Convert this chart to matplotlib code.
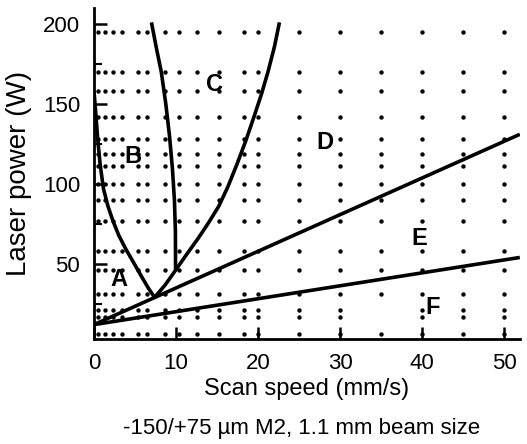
import matplotlib.pyplot as plt
import numpy as np

plt.rcParams['font.family'] = ['Liberation Sans', 'DejaVu Sans']

# pontos ensaiados: velocidade (mm/s) x potencia (W)
speeds = [0.5, 1.3, 2.3, 3.4, 5.4, 6.5, 8.7, 10.3, 12.6, 15.2, 18.3, 20, 25, 30, 35, 40, 45, 50]
powers = [6, 17, 21, 31, 46, 58, 77, 90, 100, 111, 119, 128, 142, 158, 170, 195]
missing = [(35, 17), (35, 21)]

# fronteiras entre regioes
ab_speed = [0, 0.2, 0.45, 0.75, 1.15, 1.7, 2.3, 3.0, 3.9, 4.8, 5.8, 6.6, 7.38]
ab_power = [158, 145, 128, 112, 97, 86, 77, 68, 59, 51, 42, 35, 29]
bc_speed = [7.0, 7.6, 8.2, 8.75, 9.2, 9.55, 9.8, 9.92, 9.94]
bc_power = [201, 185, 170, 150, 130, 110, 90, 70, 46]
cd_speed = [7.38, 8.7, 9.94, 11.3, 12.7, 14.0, 15.2, 16.3, 17.4, 18.5, 19.5, 20.4, 21.2, 22.0, 22.6]
cd_power = [29, 37, 46, 56, 66, 76, 86, 98, 112, 127, 142, 156, 170, 186, 201]
de_speed = [0, 51.9]
de_power = [12, 131]
ef_speed = [0, 51.9]
ef_power = [12, 54]

regions = ['A', 'B', 'C', 'D', 'E', 'F']
region_x = [3.0, 4.7, 14.7, 28.2, 39.7, 41.3]
region_y = [40, 117, 162, 126, 66, 23]

fig = plt.figure(figsize=(5.27, 4.44), dpi=100)
ax = fig.add_axes([0.1784, 0.2365, 0.808, 0.7455])

xs, ys = [], []
for s in speeds:
    for p in powers:
        if (s, p) not in missing:
            xs.append(s)
            ys.append(p)
ax.scatter(xs, ys, s=10, color='black', linewidths=0, zorder=3)

for sx, py in [(ab_speed, ab_power), (bc_speed, bc_power), (cd_speed, cd_power),
               (de_speed, de_power), (ef_speed, ef_power)]:
    ax.plot(sx, py, color='black', lw=2.6, solid_capstyle='butt',
            solid_joinstyle='round', zorder=4)

for lab, x, y in zip(regions, region_x, region_y):
    ax.text(x, y, lab, fontsize=17, fontweight='bold', ha='center', va='center', zorder=5)

ax.set_xlim(0, 51.9)
ax.set_ylim(3, 210)
ax.set_xticks([0, 10, 20, 30, 40, 50])
ax.set_yticks([50, 100, 150, 200])
ax.set_yticks([25, 75, 125, 175], minor=True)
ax.tick_params(direction='in', labelsize=16, width=1.8, length=9, pad=10)
ax.tick_params(which='minor', direction='in', width=1.5, length=6)
ax.spines['top'].set_visible(False)
ax.spines['right'].set_visible(False)
ax.spines['left'].set_linewidth(2)
ax.spines['bottom'].set_linewidth(2)

ax.set_xlabel('Scan speed (mm/s)', fontsize=17, labelpad=3)
ax.set_ylabel('Laser power (W)', fontsize=20, labelpad=8)
fig.text(302 / 527, 1 - 428 / 444, '-150/+75 \u00b5m M2, 1.1 mm beam size',
         fontsize=16, ha='center', va='center')

fig.savefig('out.png', dpi=100)
